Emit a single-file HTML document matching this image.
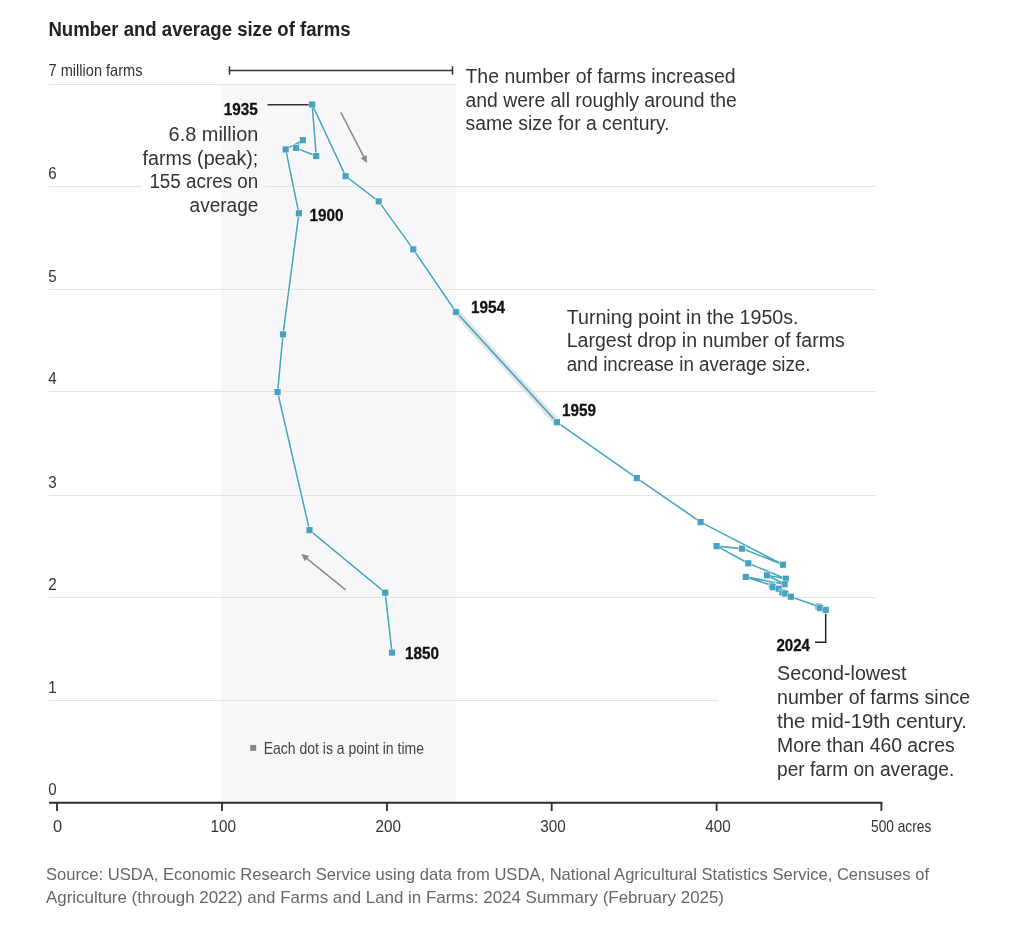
<!DOCTYPE html>
<html><head><meta charset="utf-8"><title>Number and average size of farms</title>
<style>
html,body{margin:0;padding:0;background:#fff;}
body{width:1024px;height:926px;overflow:hidden;}
svg{display:block;font-family:"Liberation Sans",sans-serif;will-change:transform;}
</style></head><body>
<svg width="1024" height="926" viewBox="0 0 1024 926">
<rect x="221.4" y="85" width="234.6" height="717" fill="#f7f7f9"/>
<line x1="49" x2="456.5" y1="84.5" y2="84.5" stroke="#e2e2e2" stroke-width="1"/>
<line x1="49" x2="141.5" y1="186.5" y2="186.5" stroke="#e2e2e2" stroke-width="1"/>
<line x1="265" x2="875.5" y1="186.5" y2="186.5" stroke="#e2e2e2" stroke-width="1"/>
<line x1="49" x2="875.5" y1="289.5" y2="289.5" stroke="#e2e2e2" stroke-width="1"/>
<line x1="49" x2="875.5" y1="391.5" y2="391.5" stroke="#e2e2e2" stroke-width="1"/>
<line x1="49" x2="875.5" y1="495.5" y2="495.5" stroke="#e2e2e2" stroke-width="1"/>
<line x1="49" x2="875.5" y1="597.5" y2="597.5" stroke="#e2e2e2" stroke-width="1"/>
<line x1="49" x2="718" y1="700.5" y2="700.5" stroke="#e2e2e2" stroke-width="1"/>
<line x1="49" x2="882.4" y1="802.8" y2="802.8" stroke="#2b2b2b" stroke-width="2"/>
<line x1="57" x2="57" y1="803" y2="811" stroke="#2b2b2b" stroke-width="1.8"/>
<line x1="222" x2="222" y1="803" y2="811" stroke="#2b2b2b" stroke-width="1.8"/>
<line x1="387" x2="387" y1="803" y2="811" stroke="#2b2b2b" stroke-width="1.8"/>
<line x1="551.7" x2="551.7" y1="803" y2="811" stroke="#2b2b2b" stroke-width="1.8"/>
<line x1="716.6" x2="716.6" y1="803" y2="811" stroke="#2b2b2b" stroke-width="1.8"/>
<line x1="881.4" x2="881.4" y1="803" y2="811" stroke="#2b2b2b" stroke-width="1.8"/>
<path d="M229.5 66.3V74.7M229.5 70.6H452.5M452.5 66.3V74.7" stroke="#333" stroke-width="1.5" fill="none"/>
<line x1="267.5" x2="309" y1="104.8" y2="104.8" stroke="#333" stroke-width="1.5"/>
<path d="M825.7 613.5V642.3H815" stroke="#222" stroke-width="1.5" fill="none"/>
<line x1="340.9" y1="112.4" x2="364.15" y2="157.57" stroke="#8a8a8a" stroke-width="1.5"/>
<path d="M366.90 162.90L360.67 158.23L366.72 155.12Z" fill="#8a8a8a"/>
<line x1="345.7" y1="589.8" x2="306.07" y2="557.86" stroke="#8a8a8a" stroke-width="1.5"/>
<path d="M301.40 554.10L308.98 555.84L304.72 561.14Z" fill="#8a8a8a"/>
<path d="M392.0 652.6 L385.2 592.7 L309.5 530.1 L277.6 392.0 L283.0 334.4 L298.9 213.3 L285.7 149.4 L302.8 140.2 L296.0 147.9 L316.2 156.1 L312.2 104.5 L345.6 176.2 L378.7 201.4 L413.3 249.4 L456.0 312.0 L556.9 422.2 L636.8 478.1 L700.6 522.1 L783.0 564.7 L742.0 548.6 L716.6 546.1 L748.3 563.3 L785.8 578.7 L767.1 575.3 L784.6 584.3 L745.8 576.9 L771.8 585.5 L772.9 587.2 L778.7 588.7 L782.5 592.5 L785.2 593.5 L790.9 596.7 L818.5 606.6 L820.1 608.1 L825.7 609.9" fill="none" stroke="#fff" stroke-width="3.6" stroke-linejoin="round" stroke-opacity="0.9"/>
<line x1="456" y1="312" x2="556.9" y2="422.2" stroke="#e4e4e4" stroke-width="7"/>
<path d="M392.0 652.6 L385.2 592.7 L309.5 530.1 L277.6 392.0 L283.0 334.4 L298.9 213.3 L285.7 149.4 L302.8 140.2 L296.0 147.9 L316.2 156.1 L312.2 104.5 L345.6 176.2 L378.7 201.4 L413.3 249.4 L456.0 312.0 L556.9 422.2 L636.8 478.1 L700.6 522.1 L783.0 564.7 L742.0 548.6 L716.6 546.1 L748.3 563.3 L785.8 578.7 L767.1 575.3 L784.6 584.3 L745.8 576.9 L771.8 585.5 L772.9 587.2 L778.7 588.7 L782.5 592.5 L785.2 593.5 L790.9 596.7 L818.5 606.6 L820.1 608.1 L825.7 609.9" fill="none" stroke="#46a7c0" stroke-width="1.6" stroke-linejoin="round"/>
<rect x="388.90" y="649.50" width="6.2" height="6.2" fill="#48a2bf" stroke="rgba(255,255,255,0.7)" stroke-width="1.2" paint-order="stroke"/>
<rect x="382.10" y="589.60" width="6.2" height="6.2" fill="#48a2bf" stroke="rgba(255,255,255,0.7)" stroke-width="1.2" paint-order="stroke"/>
<rect x="306.40" y="527.00" width="6.2" height="6.2" fill="#48a2bf" stroke="rgba(255,255,255,0.7)" stroke-width="1.2" paint-order="stroke"/>
<rect x="274.50" y="388.90" width="6.2" height="6.2" fill="#48a2bf" stroke="rgba(255,255,255,0.7)" stroke-width="1.2" paint-order="stroke"/>
<rect x="279.90" y="331.30" width="6.2" height="6.2" fill="#48a2bf" stroke="rgba(255,255,255,0.7)" stroke-width="1.2" paint-order="stroke"/>
<rect x="295.80" y="210.20" width="6.2" height="6.2" fill="#48a2bf" stroke="rgba(255,255,255,0.7)" stroke-width="1.2" paint-order="stroke"/>
<rect x="282.60" y="146.30" width="6.2" height="6.2" fill="#48a2bf" stroke="rgba(255,255,255,0.7)" stroke-width="1.2" paint-order="stroke"/>
<rect x="299.70" y="137.10" width="6.2" height="6.2" fill="#48a2bf" stroke="rgba(255,255,255,0.7)" stroke-width="1.2" paint-order="stroke"/>
<rect x="292.90" y="144.80" width="6.2" height="6.2" fill="#48a2bf" stroke="rgba(255,255,255,0.7)" stroke-width="1.2" paint-order="stroke"/>
<rect x="313.10" y="153.00" width="6.2" height="6.2" fill="#48a2bf" stroke="rgba(255,255,255,0.7)" stroke-width="1.2" paint-order="stroke"/>
<rect x="309.10" y="101.40" width="6.2" height="6.2" fill="#48a2bf" stroke="rgba(255,255,255,0.7)" stroke-width="1.2" paint-order="stroke"/>
<rect x="342.50" y="173.10" width="6.2" height="6.2" fill="#48a2bf" stroke="rgba(255,255,255,0.7)" stroke-width="1.2" paint-order="stroke"/>
<rect x="375.60" y="198.30" width="6.2" height="6.2" fill="#48a2bf" stroke="rgba(255,255,255,0.7)" stroke-width="1.2" paint-order="stroke"/>
<rect x="410.20" y="246.30" width="6.2" height="6.2" fill="#48a2bf" stroke="rgba(255,255,255,0.7)" stroke-width="1.2" paint-order="stroke"/>
<rect x="452.90" y="308.90" width="6.2" height="6.2" fill="#48a2bf" stroke="rgba(255,255,255,0.7)" stroke-width="1.2" paint-order="stroke"/>
<rect x="553.80" y="419.10" width="6.2" height="6.2" fill="#48a2bf" stroke="rgba(255,255,255,0.7)" stroke-width="1.2" paint-order="stroke"/>
<rect x="633.70" y="475.00" width="6.2" height="6.2" fill="#48a2bf" stroke="rgba(255,255,255,0.7)" stroke-width="1.2" paint-order="stroke"/>
<rect x="697.50" y="519.00" width="6.2" height="6.2" fill="#48a2bf" stroke="rgba(255,255,255,0.7)" stroke-width="1.2" paint-order="stroke"/>
<rect x="779.90" y="561.60" width="6.2" height="6.2" fill="#48a2bf" stroke="rgba(255,255,255,0.7)" stroke-width="1.2" paint-order="stroke"/>
<rect x="738.90" y="545.50" width="6.2" height="6.2" fill="#48a2bf" stroke="rgba(255,255,255,0.7)" stroke-width="1.2" paint-order="stroke"/>
<rect x="713.50" y="543.00" width="6.2" height="6.2" fill="#48a2bf" stroke="rgba(255,255,255,0.7)" stroke-width="1.2" paint-order="stroke"/>
<rect x="745.20" y="560.20" width="6.2" height="6.2" fill="#48a2bf" stroke="rgba(255,255,255,0.7)" stroke-width="1.2" paint-order="stroke"/>
<rect x="782.70" y="575.60" width="6.2" height="6.2" fill="#48a2bf" stroke="rgba(255,255,255,0.7)" stroke-width="1.2" paint-order="stroke"/>
<rect x="764.00" y="572.20" width="6.2" height="6.2" fill="#48a2bf" stroke="rgba(255,255,255,0.7)" stroke-width="1.2" paint-order="stroke"/>
<rect x="781.50" y="581.20" width="6.2" height="6.2" fill="#48a2bf" stroke="rgba(255,255,255,0.7)" stroke-width="1.2" paint-order="stroke"/>
<rect x="742.70" y="573.80" width="6.2" height="6.2" fill="#48a2bf" stroke="rgba(255,255,255,0.7)" stroke-width="1.2" paint-order="stroke"/>
<rect x="768.70" y="582.40" width="6.2" height="6.2" fill="#48a2bf" stroke="rgba(255,255,255,0.7)" stroke-width="1.2" paint-order="stroke"/>
<rect x="769.80" y="584.10" width="6.2" height="6.2" fill="#48a2bf" stroke="rgba(255,255,255,0.7)" stroke-width="1.2" paint-order="stroke"/>
<rect x="775.60" y="585.60" width="6.2" height="6.2" fill="#48a2bf" stroke="rgba(255,255,255,0.7)" stroke-width="1.2" paint-order="stroke"/>
<rect x="779.40" y="589.40" width="6.2" height="6.2" fill="#48a2bf" stroke="rgba(255,255,255,0.7)" stroke-width="1.2" paint-order="stroke"/>
<rect x="782.10" y="590.40" width="6.2" height="6.2" fill="#48a2bf" stroke="rgba(255,255,255,0.7)" stroke-width="1.2" paint-order="stroke"/>
<rect x="787.80" y="593.60" width="6.2" height="6.2" fill="#48a2bf" stroke="rgba(255,255,255,0.7)" stroke-width="1.2" paint-order="stroke"/>
<rect x="815.40" y="603.50" width="6.2" height="6.2" fill="#48a2bf" stroke="rgba(255,255,255,0.7)" stroke-width="1.2" paint-order="stroke"/>
<rect x="817.00" y="605.00" width="6.2" height="6.2" fill="#48a2bf" stroke="rgba(255,255,255,0.7)" stroke-width="1.2" paint-order="stroke"/>
<rect x="822.60" y="606.80" width="6.2" height="6.2" fill="#48a2bf" stroke="rgba(255,255,255,0.7)" stroke-width="1.2" paint-order="stroke"/>
<rect x="250.2" y="744.9" width="6" height="6" fill="#888"/>
<text x="48.4" y="36.0" font-size="20.3" font-weight="700" fill="#222" text-anchor="start" textLength="302.2" lengthAdjust="spacingAndGlyphs">Number and average size of farms</text>
<text x="48.5" y="76.4" font-size="16.5" font-weight="400" fill="#333" text-anchor="start" textLength="94" lengthAdjust="spacingAndGlyphs">7 million farms</text>
<text x="48.2" y="178.6" font-size="17.2" font-weight="400" fill="#333" text-anchor="start" textLength="8.4" lengthAdjust="spacingAndGlyphs">6</text>
<text x="48.2" y="281.6" font-size="17.2" font-weight="400" fill="#333" text-anchor="start" textLength="8.4" lengthAdjust="spacingAndGlyphs">5</text>
<text x="48.2" y="383.6" font-size="17.2" font-weight="400" fill="#333" text-anchor="start" textLength="8.4" lengthAdjust="spacingAndGlyphs">4</text>
<text x="48.2" y="487.6" font-size="17.2" font-weight="400" fill="#333" text-anchor="start" textLength="8.4" lengthAdjust="spacingAndGlyphs">3</text>
<text x="48.2" y="589.6" font-size="17.2" font-weight="400" fill="#333" text-anchor="start" textLength="8.4" lengthAdjust="spacingAndGlyphs">2</text>
<text x="48.2" y="692.6" font-size="17.2" font-weight="400" fill="#333" text-anchor="start" textLength="8.4" lengthAdjust="spacingAndGlyphs">1</text>
<text x="48.2" y="795" font-size="17.2" font-weight="400" fill="#333" text-anchor="start" textLength="8.4" lengthAdjust="spacingAndGlyphs">0</text>
<text x="57.5" y="832.2" font-size="16.5" font-weight="400" fill="#333" text-anchor="middle">0</text>
<text x="223.3" y="832.2" font-size="16.5" font-weight="400" fill="#333" text-anchor="middle" textLength="25.5" lengthAdjust="spacingAndGlyphs">100</text>
<text x="388.3" y="832.2" font-size="16.5" font-weight="400" fill="#333" text-anchor="middle" textLength="25.5" lengthAdjust="spacingAndGlyphs">200</text>
<text x="553" y="832.2" font-size="16.5" font-weight="400" fill="#333" text-anchor="middle" textLength="25.5" lengthAdjust="spacingAndGlyphs">300</text>
<text x="717.9" y="832.2" font-size="16.5" font-weight="400" fill="#333" text-anchor="middle" textLength="25.5" lengthAdjust="spacingAndGlyphs">400</text>
<text x="871" y="832.2" font-size="16.5" font-weight="400" fill="#333" text-anchor="start" textLength="60.3" lengthAdjust="spacingAndGlyphs">500 acres</text>
<text x="223.8" y="114.8" font-size="17.2" font-weight="700" fill="#111" text-anchor="start" textLength="34" lengthAdjust="spacingAndGlyphs" stroke="#111" stroke-width="0.3">1935</text>
<text x="309.6" y="221" font-size="17.2" font-weight="700" fill="#111" text-anchor="start" textLength="34" lengthAdjust="spacingAndGlyphs" stroke="#111" stroke-width="0.3">1900</text>
<text x="405.1" y="659.4" font-size="17.2" font-weight="700" fill="#111" text-anchor="start" textLength="34" lengthAdjust="spacingAndGlyphs" stroke="#111" stroke-width="0.3">1850</text>
<text x="470.9" y="313.2" font-size="17.2" font-weight="700" fill="#111" text-anchor="start" textLength="34" lengthAdjust="spacingAndGlyphs" stroke="#111" stroke-width="0.3">1954</text>
<text x="562" y="415.6" font-size="17.2" font-weight="700" fill="#111" text-anchor="start" textLength="34" lengthAdjust="spacingAndGlyphs" stroke="#111" stroke-width="0.3">1959</text>
<text x="776.5" y="650.9" font-size="17.2" font-weight="700" fill="#111" text-anchor="start" textLength="33.5" lengthAdjust="spacingAndGlyphs" stroke="#111" stroke-width="0.3">2024</text>
<text x="465.5" y="82.6" font-size="20" font-weight="400" fill="#333" text-anchor="start" textLength="270" lengthAdjust="spacingAndGlyphs">The number of farms increased</text>
<text x="465.5" y="106.5" font-size="20" font-weight="400" fill="#333" text-anchor="start" textLength="271.4" lengthAdjust="spacingAndGlyphs">and were all roughly around the</text>
<text x="465.5" y="130.39999999999998" font-size="20" font-weight="400" fill="#333" text-anchor="start" textLength="204" lengthAdjust="spacingAndGlyphs">same size for a century.</text>
<text x="258.3" y="141.0" font-size="20" font-weight="400" fill="#333" text-anchor="end" textLength="89.7" lengthAdjust="spacingAndGlyphs">6.8 million</text>
<text x="258.3" y="164.7" font-size="20" font-weight="400" fill="#333" text-anchor="end" textLength="115.8" lengthAdjust="spacingAndGlyphs">farms (peak);</text>
<text x="258.3" y="188.4" font-size="20" font-weight="400" fill="#333" text-anchor="end" textLength="108.9" lengthAdjust="spacingAndGlyphs">155 acres on</text>
<text x="258.3" y="212.1" font-size="20" font-weight="400" fill="#333" text-anchor="end" textLength="68.7" lengthAdjust="spacingAndGlyphs">average</text>
<text x="566.7" y="323.5" font-size="20" font-weight="400" fill="#333" text-anchor="start" textLength="231.9" lengthAdjust="spacingAndGlyphs">Turning point in the 1950s.</text>
<text x="566.7" y="347.4" font-size="20" font-weight="400" fill="#333" text-anchor="start" textLength="278" lengthAdjust="spacingAndGlyphs">Largest drop in number of farms</text>
<text x="566.7" y="371.3" font-size="20" font-weight="400" fill="#333" text-anchor="start" textLength="243.8" lengthAdjust="spacingAndGlyphs">and increase in average size.</text>
<text x="777.1" y="679.9" font-size="20" font-weight="400" fill="#333" text-anchor="start" textLength="129.3" lengthAdjust="spacingAndGlyphs">Second-lowest</text>
<text x="777.1" y="703.9" font-size="20" font-weight="400" fill="#333" text-anchor="start" textLength="193" lengthAdjust="spacingAndGlyphs">number of farms since</text>
<text x="777.1" y="727.9" font-size="20" font-weight="400" fill="#333" text-anchor="start" textLength="189.9" lengthAdjust="spacingAndGlyphs">the mid-19th century.</text>
<text x="777.1" y="751.9" font-size="20" font-weight="400" fill="#333" text-anchor="start" textLength="177.6" lengthAdjust="spacingAndGlyphs">More than 460 acres</text>
<text x="777.1" y="775.9" font-size="20" font-weight="400" fill="#333" text-anchor="start" textLength="177.2" lengthAdjust="spacingAndGlyphs">per farm on average.</text>
<text x="263.7" y="754.0" font-size="16.4" font-weight="400" fill="#444" text-anchor="start" textLength="160.3" lengthAdjust="spacingAndGlyphs">Each dot is a point in time</text>
<text x="46" y="880.1" font-size="16.6" font-weight="400" fill="#666" text-anchor="start" textLength="883" lengthAdjust="spacingAndGlyphs">Source: USDA, Economic Research Service using data from USDA, National Agricultural Statistics Service, Censuses of</text>
<text x="46" y="902.6" font-size="16.6" font-weight="400" fill="#666" text-anchor="start" textLength="678" lengthAdjust="spacingAndGlyphs">Agriculture (through 2022) and Farms and Land in Farms: 2024 Summary (February 2025)</text>
</svg>
</body></html>
